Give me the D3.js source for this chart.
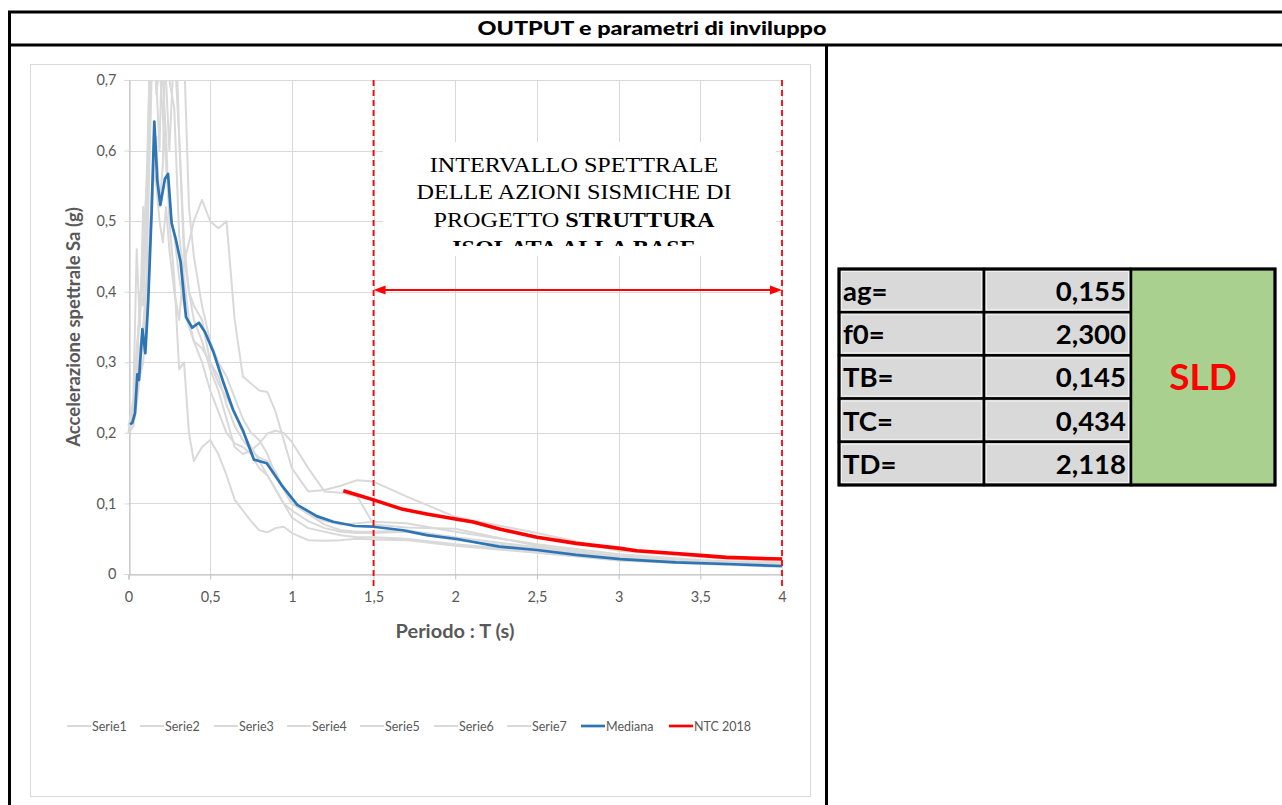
<!DOCTYPE html>
<html><head><meta charset="utf-8">
<script src="https://cdn.jsdelivr.net/npm/d3@7"></script>
<style>
html,body{margin:0;padding:0;background:#fff;}
svg{display:block;}
</style></head>
<body>
<svg id="c" width="1282" height="805"></svg>
<script>
// ---------- DATA ----------
const title = "OUTPUT e parametri di inviluppo";
const xTicks = [0, 0.5, 1, 1.5, 2, 2.5, 3, 3.5, 4];
const yTicks = [0, 0.1, 0.2, 0.3, 0.4, 0.5, 0.6, 0.7];
const seriesNames = ["Serie1","Serie2","Serie3","Serie4","Serie5","Serie6","Serie7","Mediana","NTC 2018"];

const grayT = [0,0.03,0.05,0.07,0.09,0.11,0.13,0.15,0.17,0.19,0.21,0.23,0.25,0.28,0.31,0.34,0.37,0.40,0.45,0.50,0.55,0.60,0.65,0.70,0.75,0.80,0.85,0.90,0.95,1.0,1.1,1.2,1.3,1.4,1.5,1.7,2.0,2.5,3.0,3.5,4.0];
const serie1 = [0.20,0.21,0.26,0.30,0.33,0.40,0.48,0.58,0.55,0.50,0.47,0.52,0.46,0.40,0.36,0.44,0.47,0.50,0.53,0.50,0.49,0.50,0.36,0.28,0.27,0.26,0.258,0.23,0.19,0.15,0.117,0.119,0.125,0.133,0.131,0.11,0.081,0.058,0.033,0.024,0.017];
const serie2 = [0.20,0.23,0.30,0.38,0.45,0.55,0.72,0.85,0.80,0.75,0.70,0.62,0.50,0.42,0.29,0.30,0.20,0.16,0.18,0.19,0.17,0.14,0.105,0.09,0.075,0.062,0.059,0.065,0.067,0.058,0.048,0.047,0.048,0.05,0.049,0.048,0.04,0.03,0.019,0.014,0.01];
const serie3 = [0.21,0.22,0.27,0.32,0.35,0.42,0.60,0.78,0.90,0.75,0.82,0.70,0.60,0.75,0.62,0.47,0.40,0.36,0.33,0.29,0.26,0.22,0.18,0.17,0.175,0.185,0.199,0.203,0.20,0.187,0.15,0.117,0.115,0.11,0.07,0.066,0.064,0.04,0.025,0.018,0.013];
const serie4 = [0.20,0.25,0.46,0.35,0.52,0.45,0.75,0.95,0.70,0.60,0.80,0.90,0.75,0.85,0.62,0.45,0.40,0.38,0.36,0.30,0.27,0.25,0.23,0.20,0.18,0.16,0.14,0.12,0.10,0.09,0.075,0.065,0.060,0.058,0.058,0.06,0.048,0.036,0.022,0.017,0.012];
const serie5 = [0.21,0.22,0.28,0.40,0.38,0.50,0.68,0.72,0.85,1.0,0.78,0.95,0.70,0.66,0.48,0.42,0.36,0.33,0.30,0.26,0.23,0.20,0.185,0.18,0.17,0.15,0.14,0.12,0.10,0.08,0.065,0.06,0.055,0.052,0.052,0.05,0.042,0.032,0.02,0.015,0.011];
const serie6 = [0.20,0.21,0.24,0.28,0.30,0.36,0.45,0.55,0.62,0.52,0.58,0.80,1.0,0.90,0.95,0.74,0.52,0.45,0.38,0.33,0.30,0.28,0.25,0.22,0.20,0.19,0.17,0.14,0.12,0.10,0.085,0.075,0.07,0.072,0.074,0.072,0.06,0.042,0.028,0.02,0.015];
const serie7 = [0.21,0.24,0.32,0.37,0.42,0.55,0.62,0.80,0.68,0.72,0.65,0.58,0.52,0.48,0.42,0.38,0.35,0.33,0.32,0.30,0.28,0.24,0.21,0.19,0.175,0.165,0.16,0.145,0.12,0.10,0.085,0.07,0.062,0.06,0.06,0.062,0.052,0.038,0.024,0.018,0.013];

const medT  = [0.01,0.023,0.04,0.054,0.064,0.085,0.103,0.121,0.142,0.158,0.176,0.195,0.223,0.242,0.264,0.291,0.319,0.352,0.39,0.431,0.468,0.519,0.58,0.641,0.703,0.768,0.846,0.937,1.033,1.152,1.253,1.386,1.5,1.68,1.825,2.01,2.27,2.5,2.74,3.01,3.35,3.66,4.0];
const medSa = [0.212,0.214,0.228,0.283,0.275,0.347,0.313,0.388,0.516,0.641,0.558,0.523,0.560,0.567,0.497,0.473,0.442,0.364,0.349,0.356,0.343,0.315,0.272,0.232,0.202,0.162,0.157,0.126,0.098,0.082,0.074,0.068,0.067,0.062,0.055,0.0496,0.0387,0.034,0.027,0.0212,0.0165,0.0142,0.0113];

const ntcT  = [1.315,1.417,1.5,1.68,1.825,2.01,2.11,2.27,2.5,2.74,3.01,3.11,3.35,3.52,3.66,4.0];
const ntcSa = [0.118,0.111,0.105,0.0916,0.085,0.0775,0.0737,0.0637,0.052,0.0434,0.0363,0.033,0.029,0.026,0.0236,0.0212];

const intervalT = [1.5, 4];
const boxLines = [["INTERVALLO SPETTRALE",""],["DELLE AZIONI SISMICHE DI",""],["PROGETTO ","STRUTTURA"],["","ISOLATA ALLA BASE"]];

const paramLabels = ["ag=","f0=","TB=","TC=","TD="];
const paramValues = ["0,155","2,300","0,145","0,434","2,118"];
const stateLabel = "SLD";

// ---------- DRAW ----------
const svg = d3.select("#c");
const fmt = d => String(d).replace(".", ",");
const FONT = "Lato, 'Open Sans', 'Noto Sans', sans-serif";

// page frame
svg.append("rect").attr("x",0).attr("y",0).attr("width",1282).attr("height",805).attr("fill","#fff");
const frame = svg.append("g").attr("stroke","#000").attr("stroke-width",3);
frame.append("line").attr("x1",8).attr("x2",1282).attr("y1",12).attr("y2",12);
frame.append("line").attr("x1",8).attr("x2",1282).attr("y1",45).attr("y2",45);
frame.append("line").attr("x1",9.5).attr("x2",9.5).attr("y1",11).attr("y2",805);
frame.append("line").attr("x1",826.5).attr("x2",826.5).attr("y1",45).attr("y2",805);
svg.append("text").attr("transform","translate(652,35) scale(1.2,1)").attr("text-anchor","middle")
  .attr("font-family",FONT).attr("font-weight","900").attr("font-size",19.5).attr("fill","#000")
  .text(title);

// chart area border
svg.append("rect").attr("x",30.5).attr("y",64.5).attr("width",780).attr("height",732)
  .attr("fill","#fff").attr("stroke","#d9d9d9").attr("stroke-width",1);

const x = d3.scaleLinear().domain([0,4]).range([128.5,782]);
const y = d3.scaleLinear().domain([0,0.7]).range([574,80]);

// grid
const grid = svg.append("g").attr("stroke","#d9d9d9").attr("stroke-width",1);
grid.selectAll(".gy").data(yTicks).join("line")
  .attr("x1",x(0)).attr("x2",x(4)).attr("y1",d=>Math.round(y(d))+0.5).attr("y2",d=>Math.round(y(d))+0.5);
grid.selectAll(".gx").data(xTicks).join("line")
  .attr("x1",d=>Math.round(x(d))+0.5).attr("x2",d=>Math.round(x(d))+0.5).attr("y1",y(0.7)).attr("y2",y(0));

// axes
const ax = svg.append("g").attr("transform",`translate(0,${Math.round(y(0))+0.5})`)
  .call(d3.axisBottom(x).tickValues(xTicks).tickFormat(fmt).tickSize(5).tickPadding(12));
const ay = svg.append("g").attr("transform",`translate(${Math.round(x(0))+0.5},0)`)
  .call(d3.axisLeft(y).tickValues(yTicks).tickFormat(fmt).tickSize(5).tickPadding(8));
[ax,ay].forEach(a=>{
  a.select(".domain").attr("stroke","#bfbfbf");
  a.selectAll(".tick line").attr("stroke","#bfbfbf");
  a.selectAll(".tick text").attr("font-family",FONT).attr("font-size",14.5).attr("fill","#595959");
});
ay.selectAll(".tick line").attr("stroke","#d9d9d9");

// axis titles
svg.append("text").attr("transform","translate(80,327) rotate(-90)").attr("text-anchor","middle")
  .attr("font-family",FONT).attr("font-weight","bold").attr("font-size",18.5).attr("fill","#595959")
  .text("Accelerazione spettrale Sa (g)");
svg.append("text").attr("transform","translate(455,638) scale(1.08,1)").attr("text-anchor","middle")
  .attr("font-family",FONT).attr("font-weight","bold").attr("font-size",18.5).attr("fill","#595959")
  .text("Periodo : T (s)");

// text box
svg.append("rect").attr("x",383).attr("y",142).attr("width",393).attr("height",114).attr("fill","#fff");
svg.append("defs").call(d=>{
  d.append("clipPath").attr("id","plotclip").append("rect").attr("x",120).attr("y",80).attr("width",670).attr("height",500);
  d.append("clipPath").attr("id","boxclip").append("rect").attr("x",383).attr("y",142).attr("width",393).attr("height",104);
});
const tb = svg.append("g").attr("clip-path","url(#boxclip)");
boxLines.forEach((ln,i)=>{
  const t = tb.append("text").attr("transform",`translate(574,${171.5+i*27.8}) scale(1.1,1)`).attr("text-anchor","middle")
    .attr("font-family","'Liberation Serif','Times New Roman',serif").attr("font-size",22).attr("fill","#000");
  if(ln[0]) t.append("tspan").text(ln[0]);
  if(ln[1]) t.append("tspan").attr("font-weight","bold").text(ln[1]);
});

// series
const line = d3.line().x(d=>x(d[0])).y(d=>y(d[1]));
const plot = svg.append("g").attr("clip-path","url(#plotclip)");
const grays = [serie1,serie2,serie3,serie4,serie5,serie6,serie7];
grays.forEach(s=>{
  plot.append("path").datum(grayT.map((t,i)=>[t,s[i]])).attr("d",line)
    .attr("fill","none").attr("stroke","#d9d9d9").attr("stroke-width",2).attr("stroke-linejoin","round");
});
plot.append("path").datum(medT.map((t,i)=>[t,medSa[i]])).attr("d",line)
  .attr("fill","none").attr("stroke","#2e75b6").attr("stroke-width",2.7).attr("stroke-linejoin","round");
plot.append("path").datum(ntcT.map((t,i)=>[t,ntcSa[i]])).attr("d",line)
  .attr("fill","none").attr("stroke","#ff0000").attr("stroke-width",3.6).attr("stroke-linejoin","round");

// interval markers
intervalT.forEach(t=>{
  svg.append("line").attr("x1",x(t)).attr("x2",x(t)).attr("y1",y(0.7)).attr("y2",586)
    .attr("stroke","#ff0000").attr("stroke-width",1.8).attr("stroke-dasharray","6,4");
});
const ay0 = 290, x1 = x(intervalT[0]), x2 = x(intervalT[1]);
svg.append("line").attr("x1",x1+8).attr("x2",x2-8).attr("y1",ay0).attr("y2",ay0)
  .attr("stroke","#ff0000").attr("stroke-width",2);
svg.append("path").attr("d",`M${x1},${ay0} L${x1+12},${ay0-4.5} L${x1+12},${ay0+4.5} Z`).attr("fill","#ff0000");
svg.append("path").attr("d",`M${x2},${ay0} L${x2-12},${ay0-4.5} L${x2-12},${ay0+4.5} Z`).attr("fill","#ff0000");

// legend
const legX = [67,140,214,287,360,434,507,581,669];
const leg = svg.append("g");
seriesNames.forEach((n,i)=>{
  const col = i<7 ? "#d9d9d9" : (i===7 ? "#2e75b6" : "#ff0000");
  leg.append("line").attr("x1",legX[i]).attr("x2",legX[i]+24).attr("y1",726).attr("y2",726)
    .attr("stroke",col).attr("stroke-width",i<7?2:2.7);
  leg.append("text").attr("x",legX[i]+25).attr("y",730.5).attr("font-family",FONT).attr("font-size",12.5)
    .attr("fill","#595959").text(n);
});

// parameter table
const tx = [839,984,1131,1275], ty0 = 269, rh = 43.2;
const tab = svg.append("g");
paramLabels.forEach((lab,i)=>{
  const yy = ty0 + i*rh;
  [0,1].forEach(c=>{
    tab.append("rect").attr("x",tx[c]).attr("y",yy).attr("width",tx[c+1]-tx[c]).attr("height",rh)
      .attr("fill","#d9d9d9").attr("stroke","#000").attr("stroke-width",2.5);
    tab.append("rect").attr("x",tx[c]+2.5).attr("y",yy+2.5).attr("width",tx[c+1]-tx[c]-5).attr("height",rh-5)
      .attr("fill","none").attr("stroke","#f2f2f2").attr("stroke-width",1);
  });
  tab.append("text").attr("x",tx[0]+4).attr("y",yy+32).attr("font-family",FONT).attr("font-weight","bold")
    .attr("font-size",27.5).attr("fill","#000").text(lab);
  tab.append("text").attr("x",tx[2]-5).attr("y",yy+32).attr("text-anchor","end").attr("font-family",FONT)
    .attr("font-weight","bold").attr("font-size",27.5).attr("fill","#000").text(paramValues[i]);
});
tab.append("rect").attr("x",tx[2]).attr("y",ty0).attr("width",tx[3]-tx[2]).attr("height",rh*5)
  .attr("fill","#a9d08e").attr("stroke","#000").attr("stroke-width",2.5);
tab.append("rect").attr("x",tx[0]).attr("y",ty0).attr("width",tx[3]-tx[0]).attr("height",rh*5)
  .attr("fill","none").attr("stroke","#000").attr("stroke-width",3);
tab.append("text").attr("x",(tx[2]+tx[3])/2).attr("y",ty0+rh*2.5+13).attr("text-anchor","middle")
  .attr("font-family",FONT).attr("font-weight","bold").attr("font-size",37).attr("fill","#ff0000").text(stateLabel);
</script>
</body></html>
